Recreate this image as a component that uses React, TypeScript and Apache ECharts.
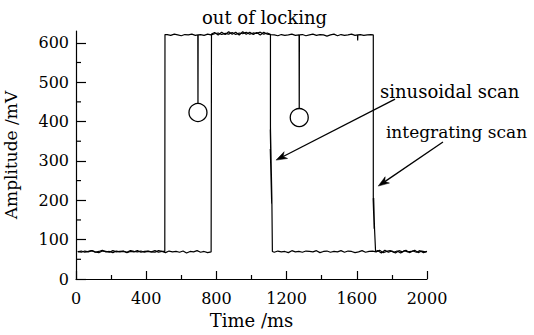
import React, { useEffect, useRef } from "react";
import * as echarts from "echarts";

// ---- Data ----
const xTicks = [0, 400, 800, 1200, 1600, 2000];
const yTicks = [0, 100, 200, 300, 400, 500, 600];
const yMinorTicks = [50, 150, 250, 350, 450, 550];

const sampleStep = 20; // ms between read-off samples

// Trace that drops with the integrating scan (unlocked 507 -> 1700 ms)
const intLowStart = 10;
const intLow = [70, 68, 71, 69, 72, 68, 70, 73, 69, 70, 67, 71, 69, 70, 68, 72, 70, 69, 71, 68, 70, 69, 72, 68, 70];
const intRise: [number, number][] = [[506, 70], [507, 621]];
const intHighAStart = 520;
const intHighA = [621, 619, 622, 620, 618, 621, 620, 622, 619];
const intSpike1: [number, number][] = [[694, 620], [695, 423], [696, 620]];
const intHighBStart = 710;
const intHighB = [621, 619, 622, 620, 623, 625, 621, 624, 622, 626, 621, 625, 623, 627, 622, 625, 624, 627, 622, 625, 621, 620, 618, 621, 619, 620, 622, 619];
const intSpike2: [number, number][] = [[1271, 620], [1272, 410], [1273, 620]];
const intHighCStart = 1290;
const intHighC = [621, 618, 620, 622, 619, 621, 620, 617, 620, 622, 618, 621, 619, 620, 622, 619];
const intDip: [number, number][] = [[1604, 620], [1605, 606], [1606, 620]];
const intHighDStart = 1620;
const intHighD = [621, 619, 620, 621];
const intDrop: [number, number][] = [
  [1694, 620], [1694, 209], [1699, 128], [1693, 205], [1700, 132], [1694, 200],
  [1701, 130], [1695, 190], [1700, 140], [1696, 206], [1701, 128], [1707, 70],
];
const intLow2Start = 1720;
const intLow2 = [72, 66, 73, 68, 71, 66, 72, 69, 73, 67, 71, 68, 72, 67, 70];
const intEnd: [number, number][] = [[2000, 70]];

// Trace that drops with the sinusoidal scan (unlocked 771 -> 1110 ms)
const sinLowStart = 10;
const sinLow = [69, 71, 68, 70, 72, 69, 67, 71, 70, 68, 72, 69, 70, 71, 67, 70, 69, 72, 68, 70, 71, 69, 68, 72, 70, 67, 71, 69, 70, 68, 71, 66, 70, 69, 72, 68, 70, 67, 69];
const sinRise: [number, number][] = [[771, 69], [772, 622]];
const sinHighStart = 790;
const sinHigh = [626, 620, 627, 621, 628, 622, 627, 620, 628, 622, 627, 621, 626, 620, 627, 622];
const sinDrop: [number, number][] = [
  [1108, 621], [1108, 387], [1115, 195], [1107, 380], [1116, 190], [1108, 370],
  [1116, 200], [1107, 330], [1115, 192], [1108, 385], [1116, 205], [1119, 70],
];
const sinLow2Start = 1130;
const sinLow2 = [68, 71, 69, 70, 67, 72, 69, 70, 68, 71, 70, 69, 72, 67, 70, 71, 68, 70, 69, 72, 68, 71, 70, 67, 69, 72, 68, 70, 71, 69, 73, 67, 70, 72, 68, 71, 66, 72, 69, 70, 73, 67, 71, 69];
const sinEnd: [number, number][] = [[2000, 70]];

// Marked points (open circles)
const circlePoints: [number, number][] = [[695, 423], [1272, 410]];

// Annotation anchors in data coordinates
const titleText = "out of locking";
const titleAnchor: [number, number] = [1074, 665];
const sinLabel = "sinusoidal scan";
const sinLabelAnchor: [number, number] = [1732, 477];
const sinArrow: [number, number][] = [[1818, 457], [1140, 302]];
const intLabel = "integrating scan";
const intLabelAnchor: [number, number] = [1766, 373];
const intArrow: [number, number][] = [[2091, 348], [1722, 236]];

const FONT = "DejaVu Serif";

function seg(start: number, vals: number[]): [number, number][] {
  return vals.map((v, i) => [start + i * sampleStep, v] as [number, number]);
}

const integratingTrace: [number, number][] = [
  ...seg(intLowStart, intLow),
  ...intRise,
  ...seg(intHighAStart, intHighA),
  ...intSpike1,
  ...seg(intHighBStart, intHighB),
  ...intSpike2,
  ...seg(intHighCStart, intHighC),
  ...intDip,
  ...seg(intHighDStart, intHighD),
  ...intDrop,
  ...seg(intLow2Start, intLow2),
  ...intEnd,
];

const sinusoidalTrace: [number, number][] = [
  ...seg(sinLowStart, sinLow),
  ...sinRise,
  ...seg(sinHighStart, sinHigh),
  ...sinDrop,
  ...seg(sinLow2Start, sinLow2),
  ...sinEnd,
];

export default function App() {
  const ref = useRef<HTMLDivElement>(null);
  useEffect(() => {
    document.body.style.margin = "0";
    const chart = echarts.init(ref.current!, undefined, { renderer: "svg" });
    const lineStyle = { color: "#000", width: 1.2 };
    chart.setOption({
      animation: false,
      backgroundColor: "#fff",
      grid: { left: 76, right: 107, top: 31, bottom: 56, containLabel: false, outerBoundsMode: "none" },
      xAxis: {
        type: "value",
        min: 0,
        max: 2000,
        interval: 400,
        name: "Time /ms",
        nameLocation: "middle",
        nameGap: 32,
        nameTextStyle: { fontFamily: FONT, fontSize: 18, color: "#000" },
        axisLine: { show: true, onZero: false, lineStyle: { color: "#000", width: 1.2 } },
        axisTick: { show: true, inside: true, length: 8, customValues: xTicks, lineStyle: { color: "#000", width: 1.2 } },
        minorTick: { show: true, splitNumber: 2, length: 4, lineStyle: { color: "#000", width: 1.2 } },
        axisLabel: {
          margin: 11,
          fontFamily: FONT,
          fontSize: 16,
          color: "#000",
          customValues: xTicks,
          formatter: (v: number) => String(v),
        },
        splitLine: { show: false },
        minorSplitLine: { show: false },
      },
      yAxis: {
        type: "value",
        min: 0,
        max: 630,
        interval: 100,
        name: "Amplitude /mV",
        nameLocation: "middle",
        nameGap: 57,
        nameTextStyle: { fontFamily: FONT, fontSize: 17, color: "#000" },
        axisLine: { show: true, onZero: false, lineStyle: { color: "#000", width: 1.2 } },
        axisTick: { show: true, inside: true, length: 10, customValues: yTicks, lineStyle: { color: "#000", width: 1.2 } },
        axisLabel: {
          margin: 7,
          fontFamily: FONT,
          fontSize: 16,
          color: "#000",
          customValues: yTicks,
          formatter: (v: number) => String(v),
        },
        splitLine: { show: false },
      },
      series: [
        {
          type: "line",
          data: integratingTrace,
          showSymbol: false,
          symbol: "none",
          lineStyle,
          z: 2,
        },
        {
          type: "line",
          data: sinusoidalTrace,
          showSymbol: false,
          symbol: "none",
          lineStyle,
          z: 2,
        },
        {
          type: "scatter",
          data: circlePoints,
          symbol: "circle",
          symbolSize: 18,
          itemStyle: { color: "#fff", borderColor: "#000", borderWidth: 1.3, opacity: 1 },
          z: 5,
        },
      ],
    });

    const px = (p: [number, number]) =>
      chart.convertToPixel({ gridIndex: 0 }, p) as number[];

    const arrow = (a: [number, number][]) => {
      const p0 = px(a[0]);
      const p1 = px(a[1]);
      const dx = p1[0] - p0[0];
      const dy = p1[1] - p0[1];
      const len = Math.hypot(dx, dy);
      const ux = dx / len;
      const uy = dy / len;
      const nx = -uy;
      const ny = ux;
      const L = 11;
      const W = 3.8;
      const notch = 8;
      return [
        {
          type: "line",
          shape: { x1: p0[0], y1: p0[1], x2: p1[0] - ux * notch, y2: p1[1] - uy * notch },
          style: { stroke: "#000", lineWidth: 1.3 },
          z: 10,
        },
        {
          type: "polygon",
          shape: {
            points: [
              [p1[0], p1[1]],
              [p1[0] - ux * L + nx * W, p1[1] - uy * L + ny * W],
              [p1[0] - ux * notch, p1[1] - uy * notch],
              [p1[0] - ux * L - nx * W, p1[1] - uy * L - ny * W],
            ],
          },
          style: { fill: "#000", stroke: "#000", lineWidth: 0.5 },
          z: 10,
        },
      ];
    };

    const text = (s: string, p: [number, number], align: string, size: number) => {
      const q = px(p);
      return {
        type: "text",
        x: q[0],
        y: q[1],
        z: 10,
        style: {
          text: s,
          fontFamily: FONT,
          fontSize: size,
          fill: "#000",
          align,
          verticalAlign: "middle",
          textAlign: align,
          textVerticalAlign: "middle",
        },
      };
    };

    // minor y ticks drawn along the y axis, positioned through the axis scale
    const minorY = yMinorTicks.map((v) => {
      const q = px([0, v]);
      return {
        type: "line",
        shape: { x1: q[0], y1: q[1], x2: q[0] + 5, y2: q[1] },
        style: { stroke: "#000", lineWidth: 1.2 },
        z: 10,
      };
    });

    chart.setOption({
      graphic: [
        text(titleText, titleAnchor, "center", 18),
        text(sinLabel, sinLabelAnchor, "left", 18),
        text(intLabel, intLabelAnchor, "left", 17),
        ...arrow(sinArrow),
        ...arrow(intArrow),
        ...minorY,
      ],
    });

    return () => chart.dispose();
  }, []);
  return (
    <div
      ref={ref}
      style={{ width: 534, height: 335, position: "fixed", left: 0, top: 0 }}
    />
  );
}
